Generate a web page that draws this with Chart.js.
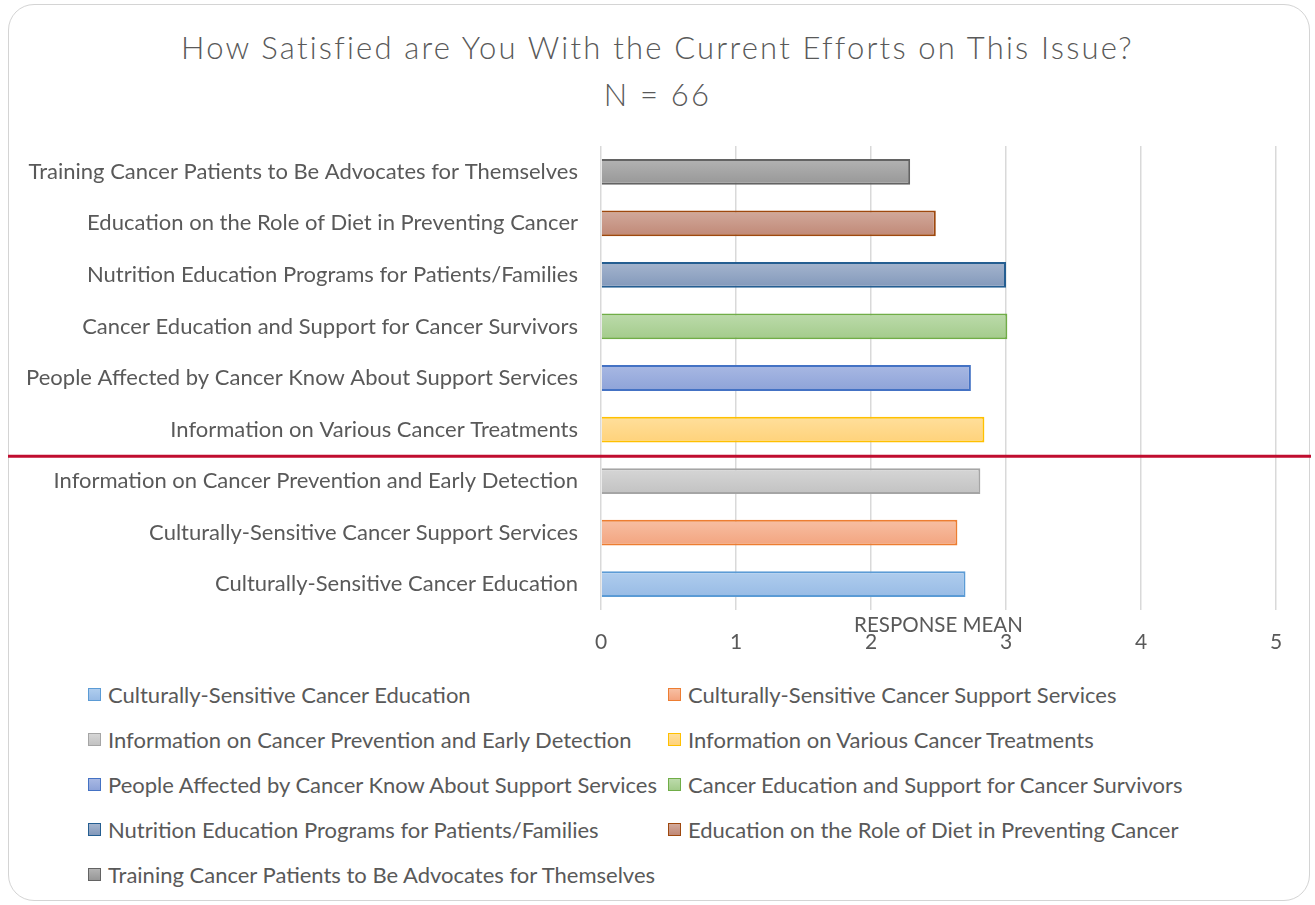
<!DOCTYPE html>
<html>
<head>
<meta charset="utf-8">
<title>How Satisfied are You With the Current Efforts on This Issue?</title>
<script src="https://cdn.jsdelivr.net/npm/chart.js@4.4.1/dist/chart.umd.min.js"></script>
<style>
  body { margin: 0; background: #fff; font-family: Lato, "Open Sans", sans-serif; }
  #card {
    position: absolute; left: 8px; top: 4px; width: 1302px; height: 897px;
    border: 1.5px solid #d4d4d4; border-radius: 26px; box-sizing: border-box;
  }
  #title {
    position: absolute; left: 0; top: 24px; width: 1315px; text-align: center;
    color: #595959; font-size: 31px; font-weight: 300; letter-spacing: 2.2px; line-height: 47px;
  }
  #wrap { position: absolute; left: 0; top: 0; width: 1315px; height: 665px; }
  #legend {
    position: absolute; left: 88px; top: 672px;
    display: grid; grid-template-columns: 580px 600px; grid-auto-rows: 45px;
    color: #595959; font-size: 22px;
  }
  .item { display: flex; align-items: center; white-space: nowrap; }
  .box { width: 11px; height: 11px; border: 1.5px solid; margin-right: 7px; }
</style>
</head>
<body>
<div id="card"></div>
<div id="title"></div>
<div id="wrap"><canvas id="chart"></canvas></div>
<div id="legend"></div>
<script>
// data (bottom to top, same order as the legend)
const categories = [
  'Culturally-Sensitive Cancer Education',
  'Culturally-Sensitive Cancer Support Services',
  'Information on Cancer Prevention and Early Detection',
  'Information on Various Cancer Treatments',
  'People Affected by Cancer Know About Support Services',
  'Cancer Education and Support for Cancer Survivors',
  'Nutrition Education Programs for Patients/Families',
  'Education on the Role of Diet in Preventing Cancer',
  'Training Cancer Patients to Be Advocates for Themselves'
];
const meanScores = [2.70, 2.64, 2.81, 2.84, 2.74, 3.01, 3.00, 2.48, 2.29];
const titleLines = ['How Satisfied are You With the Current Efforts on This Issue?', 'N = 66'];
const axisTitle = 'RESPONSE MEAN';

// colours per bar: [border, gradient top, gradient bottom]
const barColors = [
  ['#5b9bd5', '#afcdee', '#98bbe5'],
  ['#ed7d31', '#f7bfa3', '#f3a47f'],
  ['#a5a5a5', '#d6d6d6', '#c2c2c2'],
  ['#ffc000', '#ffdf9c', '#ffd27a'],
  ['#4472c4', '#a8b8e3', '#8ea3d8'],
  ['#70ad47', '#bcdbab', '#a3cb8b'],
  ['#255e91', '#a5b5ce', '#8298ba'],
  ['#9e480e', '#d2aa9c', '#c08876'],
  ['#636363', '#b3b3b3', '#979797']
];
const textColor = '#595959';
const font = 'Lato, sans-serif';

document.getElementById('title').innerHTML = titleLines.join('<br>');

function barFill(context) {
  const c = barColors[context.dataIndex];
  const chart = context.chart;
  const y = chart.scales.y;
  if (!chart.chartArea || !y) return c[1];
  const cy = y.getPixelForValue(context.dataIndex);
  const g = chart.ctx.createLinearGradient(0, cy - 13, 0, cy + 13);
  g.addColorStop(0, c[1]);
  g.addColorStop(1, c[2]);
  return g;
}

// red separator line + axis title sitting above the tick labels
const extras = {
  id: 'extras',
  afterDraw(chart) {
    const ctx = chart.ctx;
    const y = chart.scales.y;
    const x = chart.scales.x;
    const ly = y.getPixelForValue(2.5) + 1;
    ctx.save();
    ctx.strokeStyle = '#c00d2f';
    ctx.lineWidth = 3;
    ctx.beginPath();
    ctx.moveTo(8, ly);
    ctx.lineTo(1311, ly);
    ctx.stroke();

    ctx.fillStyle = textColor;
    ctx.font = '20.5px ' + font;
    ctx.textAlign = 'center';
    ctx.textBaseline = 'middle';
    ctx.fillText(axisTitle, (x.left + x.right) / 2, chart.chartArea.bottom + 15);
    ctx.restore();
  }
};

const chart = new Chart(document.getElementById('chart'), {
  type: 'bar',
  data: {
    labels: categories,
    datasets: [{
      label: 'Response mean',
      data: meanScores,
      backgroundColor: barFill,
      borderColor: barColors.map(c => c[0]),
      borderWidth: 2,
      categoryPercentage: 1,
      barPercentage: 0.5
    }]
  },
  options: {
    indexAxis: 'y',
    responsive: true,
    maintainAspectRatio: false,
    animation: false,
    layout: { padding: { top: 146 } },
    plugins: {
      legend: { display: false },
      tooltip: { enabled: false },
      title: { display: false }
    },
    scales: {
      x: {
        min: 0,
        max: 5,
        ticks: { stepSize: 1, color: textColor, padding: 20, font: { family: font, size: 21 } },
        grid: { color: '#d9d9d9', lineWidth: 1.5, drawTicks: false },
        border: { display: false },
        afterFit(s) { s.height = 55; }
      },
      y: {
        reverse: true,
        ticks: { color: textColor, padding: 23, font: { family: font, size: 22 } },
        grid: { display: false, drawTicks: false },
        border: { display: false },
        afterFit(s) { s.width = 601; }
      },
      yRight: {
        position: 'right',
        display: true,
        ticks: { display: false },
        grid: { display: false, drawTicks: false },
        border: { display: false },
        afterFit(s) { s.width = 39; }
      }
    }
  },
  plugins: [extras]
});

// legend in two columns
const legend = document.getElementById('legend');
categories.forEach((name, i) => {
  const c = barColors[i];
  const item = document.createElement('div');
  item.className = 'item';
  const box = document.createElement('span');
  box.className = 'box';
  box.style.borderColor = c[0];
  box.style.background = `linear-gradient(${c[1]}, ${c[2]})`;
  const label = document.createElement('span');
  label.textContent = name;
  item.appendChild(box);
  item.appendChild(label);
  legend.appendChild(item);
});
</script>
</body>
</html>
